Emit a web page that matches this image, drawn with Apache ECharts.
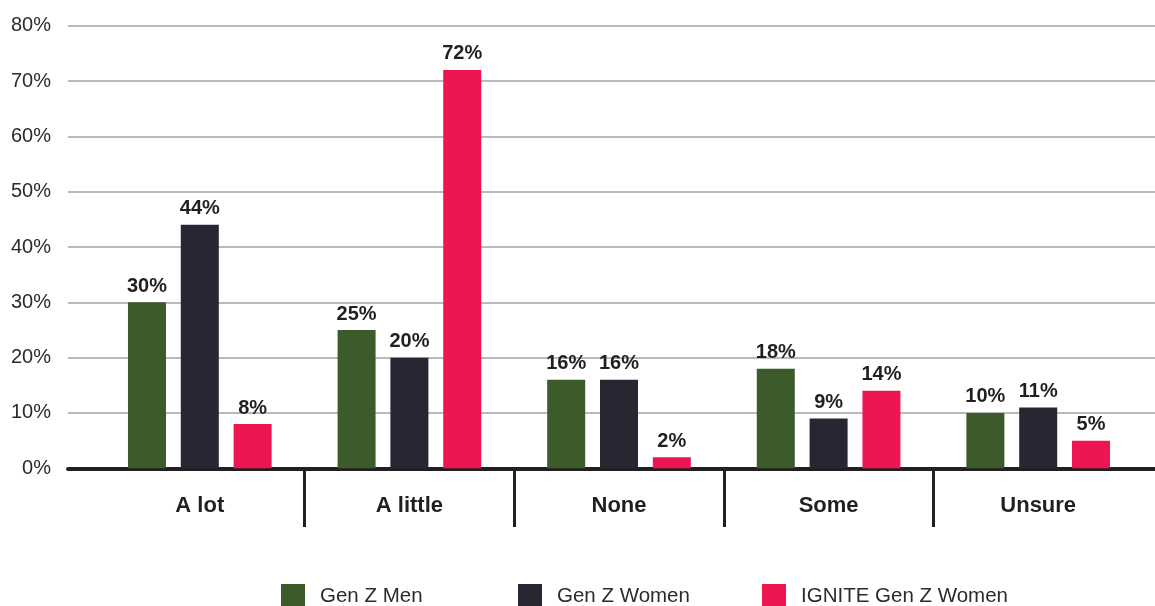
<!DOCTYPE html>
<html>
<head>
<meta charset="utf-8">
<script src="https://cdn.jsdelivr.net/npm/echarts@6/dist/echarts.min.js"></script>
<style>
html,body{margin:0;padding:0;background:#fff;}
#chart{width:1155px;height:606px;}
</style>
</head>
<body>
<div id="chart"></div>
<script>
const categories = ['A lot', 'A little', 'None', 'Some', 'Unsure'];
const seriesNames = ['Gen Z Men', 'Gen Z Women', 'IGNITE Gen Z Women'];
const genZMen = [30, 25, 16, 18, 10];
const genZWomen = [44, 20, 16, 9, 11];
const igniteGenZWomen = [8, 72, 2, 14, 5];
const yTicks = [0, 10, 20, 30, 40, 50, 60, 70, 80];

const colors = ['#3c5a2a', '#2a2533', '#ee1651'];
const textDark = '#231f20';
const regFont = '"Liberation Sans", Arial, sans-serif';
const boldFont = '"Liberation Sans", Arial, sans-serif';

const chart = echarts.init(document.getElementById('chart'), null, {renderer: 'canvas'});

const TOP = 25.7, BOTTOM = 137.7;
const yMin = yTicks[0], yMax = yTicks[yTicks.length - 1], yInt = yTicks[1] - yTicks[0];

const dataSets = [genZMen, genZWomen, igniteGenZWomen];

const option = {
  animation: false,
  backgroundColor: '#fff',
  grid: [
    {left: 68, right: 0, top: TOP, bottom: BOTTOM},
    {left: 95, right: 12, top: TOP, bottom: BOTTOM},
    {left: 95, right: 12, top: 470, height: 57}
  ],
  xAxis: [
    {gridIndex: 0, type: 'value', min: 0, max: 1, show: true,
     axisLine: {show: true, onZero: false, lineStyle: {color: textDark, width: 4}},
     axisTick: {show: false}, axisLabel: {show: false}, splitLine: {show: false}},
    {gridIndex: 1, type: 'category', data: categories,
     axisLine: {show: false}, axisTick: {show: false},
     axisLabel: {margin: 27, fontFamily: boldFont, fontWeight: 'bold', fontSize: 22, color: textDark}},
    {gridIndex: 2, type: 'category', data: categories, position: 'top',
     axisLine: {show: false}, axisTick: {show: false}, axisLabel: {show: false},
     splitLine: {show: true, showMinLine: false, showMaxLine: false, lineStyle: {color: textDark, width: 3}}}
  ],
  yAxis: [
    {gridIndex: 0, type: 'value', min: yMin, max: yMax, interval: yInt,
     axisLine: {show: false}, axisTick: {show: false},
     axisLabel: {margin: 17, formatter: '{value}%', fontFamily: regFont, fontSize: 20, color: '#2b2b2b'},
     splitLine: {show: true, lineStyle: {color: '#a3a3a3', width: 1.5}}},
    {gridIndex: 1, type: 'value', min: yMin, max: yMax, interval: yInt, show: false, splitLine: {show: false}},
    {gridIndex: 2, type: 'value', min: 0, max: 1, show: false, splitLine: {show: false}}
  ],
  legend: seriesNames.map((n, i) => ({
    data: [n],
    left: [281, 518, 762][i],
    top: 584,
    padding: 0,
    itemWidth: 24, itemHeight: 24, icon: 'rect', itemGap: 0,
    textStyle: {fontFamily: regFont, fontSize: 20.5, color: '#2b2b2b', padding: [2, 0, 0, 10]}
  })),
  series: seriesNames.map((n, i) => ({
    name: n,
    type: 'bar',
    xAxisIndex: 1, yAxisIndex: 1,
    data: dataSets[i],
    barWidth: 38,
    barGap: '39%',
    itemStyle: {color: colors[i]},
    label: {show: true, position: 'top', distance: 6, formatter: '{c}%',
            fontFamily: boldFont, fontWeight: 'bold', fontSize: 20, color: textDark}
  }))
};
chart.setOption(option);
</script>
</body>
</html>
